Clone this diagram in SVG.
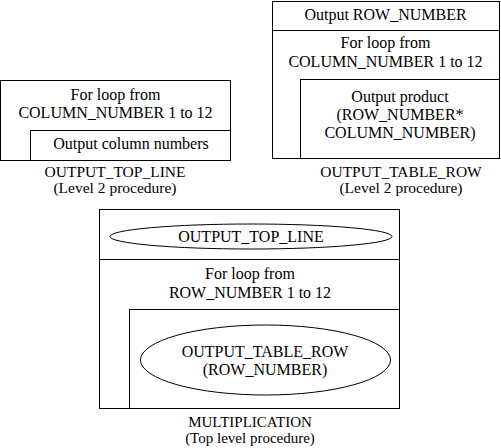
<svg xmlns="http://www.w3.org/2000/svg" width="501" height="448" viewBox="0 0 501 448">
<style>
.b{fill:none;stroke:#000;stroke-width:1}
text{font-family:'Liberation Serif','DejaVu Serif','Times New Roman',Times,serif;font-size:16px;fill:#000;text-anchor:middle}
.l{font-size:15.5px}
.m{font-size:15px}
</style>
<rect width="501" height="448" fill="#fff"/>
<g id="output_top_line" font-family="Liberation Serif, serif">
<rect class="b" x="0.5" y="80.5" width="230" height="80"/>
<rect class="b" x="30.5" y="130.5" width="200" height="30"/>
<text x="115.5" y="100">For loop from</text>
<text x="115.5" y="118">COLUMN_NUMBER 1 to 12</text>
<text x="131" y="149">Output column numbers</text>
<text class="l" x="115" y="177">OUTPUT_TOP_LINE</text>
<text class="l" x="115" y="193">(Level 2 procedure)</text>
</g>
<g id="output_table_row" font-family="Liberation Serif, serif">
<rect class="b" x="272.5" y="1.5" width="227" height="157"/>
<line class="b" x1="272.5" y1="30.5" x2="499.5" y2="30.5"/>
<rect class="b" x="300.5" y="79.5" width="199" height="79"/>
<text x="385.5" y="20">Output ROW_NUMBER</text>
<text x="385.5" y="48">For loop from</text>
<text x="385.5" y="67">COLUMN_NUMBER 1 to 12</text>
<text x="400" y="102">Output product</text>
<text x="400" y="120">(ROW_NUMBER*</text>
<text x="400" y="138">COLUMN_NUMBER)</text>
<text class="l" x="401" y="177">OUTPUT_TABLE_ROW</text>
<text class="l" x="401" y="193">(Level 2 procedure)</text>
</g>
<g id="multiplication" font-family="Liberation Serif, serif">
<rect class="b" x="99.5" y="209.5" width="300" height="199"/>
<line class="b" x1="99.5" y1="259.5" x2="399.5" y2="259.5"/>
<ellipse class="b" cx="251" cy="236.5" rx="141" ry="12.5"/>
<text x="251" y="242">OUTPUT_TOP_LINE</text>
<text x="250" y="279">For loop from</text>
<text x="250" y="298">ROW_NUMBER 1 to 12</text>
<rect class="b" x="129.5" y="309.5" width="270" height="99"/>
<ellipse class="b" cx="265.5" cy="360" rx="125" ry="35"/>
<text x="265" y="357">OUTPUT_TABLE_ROW</text>
<text x="265" y="375">(ROW_NUMBER)</text>
<text class="m" x="250" y="427">MULTIPLICATION</text>
<text class="m" x="250" y="443">(Top level procedure)</text>
</g>
<g id="connectors"/>
</svg>
